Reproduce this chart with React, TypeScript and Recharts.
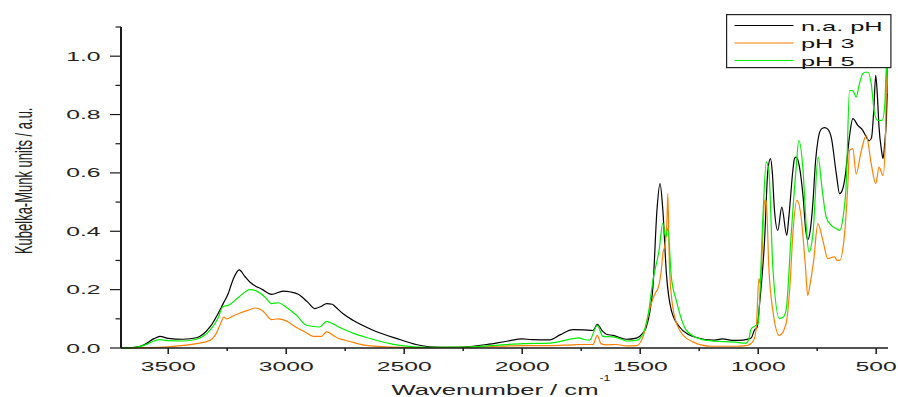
import { Legend, Line, LineChart, XAxis, YAxis } from 'recharts';

const FONT = '"Liberation Sans", Arial, sans-serif';
const AXIS_COLOR = '#1a1a1a';
const STRETCH = 1.9; // the original figure is stretched sideways

const SERIES_NAMES = ['n.a. pH', 'pH 3', 'pH 5'];
const SERIES_COLORS = ['#000000', '#ff8000', '#00ee00'];

const xTicks = [3500, 3250, 3000, 2750, 2500, 2250, 2000, 1750, 1500, 1250, 1000, 750, 500];
const yTicks = [0, 0.1, 0.2, 0.3, 0.4, 0.5, 0.6, 0.7, 0.8, 0.9, 1.0, 1.1];

// n.a. pH
const blackWn = [
  3700, 3640, 3600, 3560, 3535, 3500, 3436, 3380, 3323, 3267, 3246, 3225, 3199, 3175, 3154, 3100,
  3062, 3013, 2980, 2949, 2910, 2879, 2850, 2829, 2805, 2794, 2760, 2717, 2632, 2519, 2450, 2377,
  2300, 2236, 2150, 2060, 2000, 1960, 1883, 1840, 1785, 1740, 1700, 1682, 1660, 1643, 1615, 1580,
  1559, 1516, 1490, 1474, 1460, 1446, 1429, 1416, 1404, 1389, 1368, 1333, 1300, 1262, 1192, 1150,
  1110, 1065, 1030, 1016, 1005, 994, 973, 959, 948, 940, 931, 917, 900, 879, 870, 853, 846, 839,
  825, 810, 798, 790, 780, 768, 757, 747, 733, 719, 705, 690, 669, 655, 640, 630, 614, 599, 578,
  557, 540, 530, 520, 510, 502, 494, 488, 478, 471, 464, 457, 450,
];
const blackKm = [
  0.0, 0.002, 0.012, 0.032, 0.04, 0.033, 0.03, 0.035, 0.072, 0.152, 0.186, 0.235, 0.268, 0.245,
  0.226, 0.2, 0.184, 0.195, 0.192, 0.184, 0.158, 0.135, 0.143, 0.152, 0.15, 0.143, 0.118, 0.095,
  0.061, 0.029, 0.012, 0.003, 0.002, 0.004, 0.012, 0.024, 0.031, 0.029, 0.028, 0.045, 0.063, 0.062,
  0.06, 0.081, 0.058, 0.047, 0.043, 0.034, 0.03, 0.034, 0.05, 0.072, 0.12, 0.209, 0.472, 0.563,
  0.472, 0.255, 0.129, 0.072, 0.048, 0.036, 0.027, 0.031, 0.026, 0.027, 0.034, 0.061, 0.07, 0.152,
  0.369, 0.609, 0.649, 0.6, 0.472, 0.403, 0.483, 0.386, 0.45, 0.609, 0.65, 0.654, 0.62, 0.52, 0.4,
  0.371, 0.4, 0.5, 0.64, 0.711, 0.75, 0.755, 0.75, 0.72, 0.597, 0.529, 0.55, 0.597, 0.72, 0.786,
  0.763, 0.746, 0.72, 0.71, 0.72, 0.82, 0.934, 0.85, 0.757, 0.68, 0.649, 0.7, 0.78, 0.96,
];

// pH 3
const orangeWn = [
  3700, 3600, 3500, 3436, 3380, 3323, 3300, 3281, 3264, 3253, 3230, 3196, 3160, 3129, 3098, 3062,
  3034, 3000, 2956, 2920, 2886, 2850, 2829, 2787, 2720, 2660, 2519, 2400, 2236, 2100, 2000, 1883,
  1785, 1740, 1700, 1682, 1665, 1640, 1600, 1559, 1516, 1488, 1470, 1453, 1435, 1425, 1410, 1404,
  1394, 1386, 1383, 1378, 1376, 1362, 1333, 1277, 1200, 1100, 1050, 1020, 1008, 997, 990, 980, 973,
  966, 955, 938, 910, 882, 865, 853, 836, 818, 800, 790, 780, 765, 747, 726, 705, 690, 677, 665,
  655, 634, 620, 613, 599, 585, 563, 542, 521, 502, 488, 471, 461, 456, 450,
];
const orangeKm = [
  0.0, 0.001, 0.004, 0.009, 0.015, 0.026, 0.045, 0.078, 0.106, 0.1, 0.108, 0.12, 0.13, 0.137, 0.126,
  0.097, 0.1, 0.093, 0.07, 0.055, 0.04, 0.04, 0.055, 0.036, 0.02, 0.009, 0.002, 0.001, 0.002, 0.006,
  0.008, 0.008, 0.011, 0.012, 0.012, 0.043, 0.014, 0.011, 0.012, 0.007, 0.008, 0.038, 0.1, 0.152,
  0.19, 0.203, 0.27, 0.323, 0.357, 0.45, 0.529, 0.35, 0.277, 0.14, 0.061, 0.021, 0.006, 0.006,
  0.008, 0.025, 0.072, 0.238, 0.22, 0.4, 0.506, 0.506, 0.277, 0.129, 0.043, 0.083, 0.22, 0.392,
  0.506, 0.449, 0.28, 0.18, 0.22, 0.3, 0.426, 0.369, 0.306, 0.31, 0.312, 0.3, 0.3, 0.392, 0.563,
  0.677, 0.683, 0.597, 0.677, 0.728, 0.631, 0.563, 0.62, 0.591, 0.711, 0.94, 0.97,
];

// pH 5
const greenWn = [
  3700, 3640, 3600, 3560, 3535, 3500, 3436, 3380, 3323, 3290, 3267, 3246, 3200, 3154, 3126, 3090,
  3062, 3034, 3000, 2956, 2914, 2858, 2829, 2800, 2773, 2720, 2660, 2519, 2400, 2236, 2100, 1997,
  1883, 1785, 1760, 1740, 1714, 1682, 1658, 1615, 1580, 1559, 1516, 1488, 1465, 1446, 1420, 1404,
  1392, 1383, 1368, 1347, 1305, 1260, 1220, 1100, 1051, 1040, 1030, 1015, 1001, 980, 966, 955, 938,
  910, 895, 882, 860, 839, 828, 811, 795, 785, 768, 746, 730, 712, 690, 669, 655, 640, 627, 613,
  599, 585, 571, 557, 545, 535, 521, 507, 493, 475, 464, 456, 450,
];
const greenKm = [
  0.0, 0.002, 0.01, 0.024, 0.029, 0.025, 0.024, 0.03, 0.061, 0.1, 0.143, 0.146, 0.175, 0.2, 0.195,
  0.175, 0.152, 0.155, 0.14, 0.112, 0.078, 0.072, 0.091, 0.082, 0.07, 0.052, 0.036, 0.009, 0.002,
  0.003, 0.01, 0.015, 0.017, 0.032, 0.035, 0.03, 0.027, 0.078, 0.04, 0.038, 0.03, 0.024, 0.026,
  0.049, 0.12, 0.232, 0.335, 0.428, 0.38, 0.409, 0.243, 0.163, 0.061, 0.035, 0.026, 0.02, 0.017,
  0.03, 0.065, 0.075, 0.083, 0.449, 0.637, 0.609, 0.277, 0.101, 0.105, 0.129, 0.392, 0.62, 0.711,
  0.62, 0.4, 0.329, 0.392, 0.654, 0.55, 0.449, 0.42, 0.409, 0.403, 0.45, 0.563, 0.882, 0.882, 0.86,
  0.905, 0.94, 0.945, 0.945, 0.905, 0.803, 0.78, 0.78, 0.826, 0.974, 0.871,
];

const toRows = (wn: number[], km: number[]) => wn.map((w, i) => ({ wn: w, km: km[i] }));

const seriesData = [toRows(blackWn, blackKm), toRows(orangeWn, orangeKm), toRows(greenWn, greenKm)];

type TickProps = { x?: number; y?: number; payload?: { value: number } };

const XTick = ({ x = 0, y = 0, payload }: TickProps) => {
  const v = payload?.value ?? 0;
  const major = v % 500 === 0;
  return (
    <g>
      <line x1={x} x2={x} y1={y} y2={y + (major ? 6 : 3)} stroke={AXIS_COLOR} strokeWidth={1.5} />
      {major ? (
        <text
          transform={`translate(${x},${y + 22.5}) scale(${STRETCH},1)`}
          textAnchor="middle"
          fontFamily={FONT}
          fontSize={13}
          fill="#222"
        >
          {v}
        </text>
      ) : null}
    </g>
  );
};

const YTick = ({ x = 0, y = 0, payload }: TickProps) => {
  const v = payload?.value ?? 0;
  const major = Math.round(v * 10) % 2 === 0;
  return (
    <g>
      <line x1={x - (major ? 11 : 5.5)} x2={x} y1={y} y2={y} stroke={AXIS_COLOR} strokeWidth={1.2} />
      {major ? (
        <text
          transform={`translate(${x - 20.5},${y + 4.5}) scale(${STRETCH},1)`}
          textAnchor="end"
          fontFamily={FONT}
          fontSize={13}
          fill="#222"
        >
          {v.toFixed(1)}
        </text>
      ) : null}
    </g>
  );
};

type ViewBox = { x?: number; y?: number; width?: number; height?: number };

const XTitle = ({ viewBox }: { viewBox?: ViewBox }) => {
  const vb = viewBox ?? {};
  const cx = (vb.x ?? 0) + (vb.width ?? 0) / 2;
  const base = (vb.y ?? 0) + 46.5;
  return (
    <g>
      <text
        x={cx - 113}
        y={base}
        fontFamily={FONT}
        fontSize={15}
        fill="#222"
        textLength={207}
        lengthAdjust="spacingAndGlyphs"
      >
        Wavenumber / cm
      </text>
      <text
        x={cx + 95}
        y={base - 13.5}
        fontFamily={FONT}
        fontSize={9}
        fill="#222"
        textLength={11}
        lengthAdjust="spacingAndGlyphs"
      >
        -1
      </text>
    </g>
  );
};

const YTitle = ({ viewBox }: { viewBox?: ViewBox }) => {
  const vb = viewBox ?? {};
  const cy = (vb.y ?? 0) + (vb.height ?? 0) / 2 - 6.7;
  return (
    <text
      transform={`translate(31.5,${cy}) rotate(-90) scale(1,${STRETCH})`}
      textAnchor="middle"
      fontFamily={FONT}
      fontSize={13}
      fill="#222"
    >
      Kubelka-Munk units / a.u.
    </text>
  );
};

const renderLegend = () => (
  <svg width={166} height={55} style={{ display: 'block' }}>
    <rect x={0.6} y={0.6} width={164.3} height={53} fill="#fff" stroke="#222" strokeWidth={1.2} />
    {SERIES_NAMES.map((name, i) => {
      const ly = 11.5 + i * 17.5;
      return (
        <g key={name}>
          <line x1={8.5} x2={67.5} y1={ly} y2={ly} stroke={SERIES_COLORS[i]} strokeWidth={1.2} />
          <text
            transform={`translate(75,${ly + 5}) scale(1.95,1)`}
            fontFamily={FONT}
            fontSize={13}
            fill="#111"
          >
            {name}
          </text>
        </g>
      );
    })}
  </svg>
);

export default function App() {
  return (
    <div style={{ position: 'absolute', left: 0, top: 0, width: 898, height: 397, background: '#fff' }}>
      <LineChart width={898} height={397} margin={{ top: 27, right: 10, bottom: 0, left: 0 }}>
        <XAxis
          type="number"
          dataKey="wn"
          domain={[450, 3700]}
          reversed
          allowDataOverflow
          ticks={xTicks}
          interval={0}
          height={49}
          tickSize={0}
          tickMargin={0}
          tickLine={false}
          tick={<XTick />}
          axisLine={{ stroke: AXIS_COLOR, strokeWidth: 1.5 }}
          label={<XTitle />}
        />
        <YAxis
          type="number"
          domain={[0, 1.1]}
          ticks={yTicks}
          interval={0}
          width={121}
          tickSize={0}
          tickMargin={0}
          tickLine={false}
          tick={<YTick />}
          axisLine={{ stroke: AXIS_COLOR, strokeWidth: 2 }}
          label={<YTitle />}
        />
        <Legend
          layout="horizontal"
          verticalAlign="middle"
          align="center"
          content={renderLegend}
          wrapperStyle={{ left: 726, top: 13.5, width: 166, height: 55 }}
        />
        {seriesData.map((rows, i) => (
          <Line
            key={SERIES_NAMES[i]}
            data={rows}
            dataKey="km"
            name={SERIES_NAMES[i]}
            type="monotone"
            stroke={SERIES_COLORS[i]}
            strokeWidth={1.2}
            dot={false}
            activeDot={false}
            isAnimationActive={false}
          />
        ))}
      </LineChart>
    </div>
  );
}
